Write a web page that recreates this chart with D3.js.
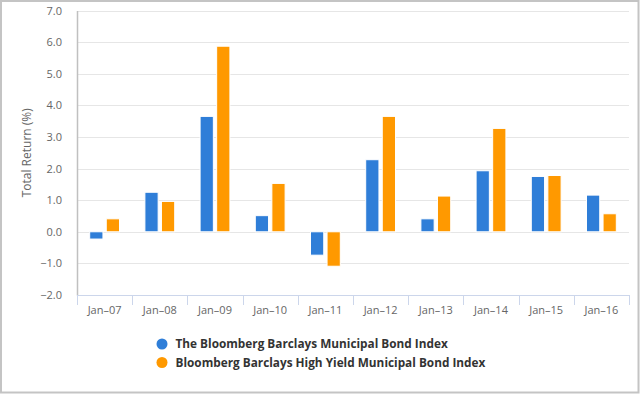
<!DOCTYPE html>
<html>
<head>
<meta charset="utf-8">
<script src="https://cdn.jsdelivr.net/npm/d3@7/dist/d3.min.js"></script>
<style>
  body { margin: 0; background: #fff; }
  svg { display: block; font-family: "Open Sans", sans-serif; }
</style>
</head>
<body>
<svg id="chart" width="640" height="394"></svg>
<script>
const categories = ["Jan-07", "Jan-08", "Jan-09", "Jan-10", "Jan-11", "Jan-12", "Jan-13", "Jan-14", "Jan-15", "Jan-16"];
const muniIndex = [-0.23, 1.25, 3.65, 0.51, -0.74, 2.28, 0.41, 1.93, 1.75, 1.16];
const highYieldIndex = [0.41, 0.96, 5.87, 1.53, -1.09, 3.65, 1.13, 3.27, 1.78, 0.57];
const yTicks = [-2, -1, 0, 1, 2, 3, 4, 5, 6, 7];
const seriesNames = ["The Bloomberg Barclays Municipal Bond Index", "Bloomberg Barclays High Yield Municipal Bond Index"];
const seriesColors = ["#2f7ed8", "#ff9900"];

const series = [muniIndex, highYieldIndex];
const margin = { top: 10.5, right: 11, bottom: 99, left: 77 };
const width = 640, height = 394;

const svg = d3.select("#chart");
svg.selectAll("*").remove();

// outer border
svg.append("rect")
  .attr("x", 1).attr("y", 1)
  .attr("width", 637.5).attr("height", 391.5)
  .attr("fill", "none")
  .attr("stroke", "#c4c4c4")
  .attr("stroke-width", 2);

const x = d3.scaleBand()
  .domain(categories)
  .range([margin.left, width - margin.right]);

const y = d3.scaleLinear()
  .domain([-2, 7])
  .range([height - margin.bottom, margin.top]);

// inner band for the two series (groupPadding 0.2, pointPadding 0.1)
const groupPad = x.bandwidth() * 0.2;
const x1 = d3.scaleBand()
  .domain(d3.range(series.length))
  .range([0, x.bandwidth() - 2 * groupPad])
  .paddingInner(0.2)
  .paddingOuter(0.1);

// grid lines
svg.append("g")
  .selectAll("line")
  .data(yTicks.filter(d => d > -2))
  .enter()
  .append("line")
  .attr("x1", margin.left)
  .attr("x2", width - margin.right)
  .attr("y1", d => Math.round(y(d)) + 0.5)
  .attr("y2", d => Math.round(y(d)) + 0.5)
  .attr("stroke", "#e6e6e6");

// y axis
const yAxis = svg.append("g")
  .attr("transform", `translate(${margin.left},0)`)
  .call(d3.axisLeft(y).tickValues(yTicks).tickFormat(d => d.toFixed(1).replace("-", "\u2212")).tickSize(0).tickPadding(15));
yAxis.select(".domain").attr("stroke", "#c0c0c0").attr("stroke-width", 1.5);
yAxis.selectAll("text")
  .attr("fill", "#666")
  .attr("font-size", "11px")
  .attr("font-family", "'Open Sans', sans-serif");

// y axis title
svg.append("text")
  .attr("transform", `translate(31,${(margin.top + height - margin.bottom) / 2}) rotate(-90)`)
  .attr("text-anchor", "middle")
  .attr("fill", "#666")
  .attr("font-size", "12px")
  .text("Total Return (%)");

// bars
series.forEach((vals, si) => {
  svg.append("g")
    .selectAll("rect")
    .data(vals)
    .enter()
    .append("rect")
    .attr("x", (d, i) => x(categories[i]) + groupPad + x1(si))
    .attr("y", d => y(Math.max(0, d)))
    .attr("width", x1.bandwidth())
    .attr("height", d => Math.abs(y(d) - y(0)))
    .attr("fill", seriesColors[si])
    .attr("stroke", "#fff")
    .attr("stroke-width", 1);
});

// x axis
const xAxis = svg.append("g")
  .attr("transform", `translate(0,${height - margin.bottom})`)
  .call(d3.axisBottom(x).tickSize(0).tickPadding(11));
xAxis.select(".domain").attr("stroke", "#ccd6eb");
xAxis.selectAll("text")
  .attr("fill", "#666")
  .attr("font-size", "11px")
  .attr("font-family", "'Open Sans', sans-serif")
  .text(d => d.replace("-", "\u2013"));
xAxis.append("g")
  .selectAll("line")
  .data(d3.range(categories.length + 1))
  .enter()
  .append("line")
  .attr("x1", i => Math.round(margin.left + i * x.step()) + 0.5)
  .attr("x2", i => Math.round(margin.left + i * x.step()) + 0.5)
  .attr("y1", 0)
  .attr("y2", 10)
  .attr("stroke", "#ccd6eb");

// legend
const legend = svg.append("g").attr("transform", "translate(162,344)");
seriesNames.forEach((name, i) => {
  const row = legend.append("g").attr("transform", `translate(0,${i * 18.5})`);
  row.append("circle").attr("r", 5.5).attr("fill", seriesColors[i]);
  row.append("text")
    .attr("x", 13.5)
    .attr("dy", "0.35em")
    .attr("fill", "#333")
    .attr("font-size", "11.8px")
    .attr("font-weight", "bold")
    .text(name);
});
</script>
</body>
</html>
